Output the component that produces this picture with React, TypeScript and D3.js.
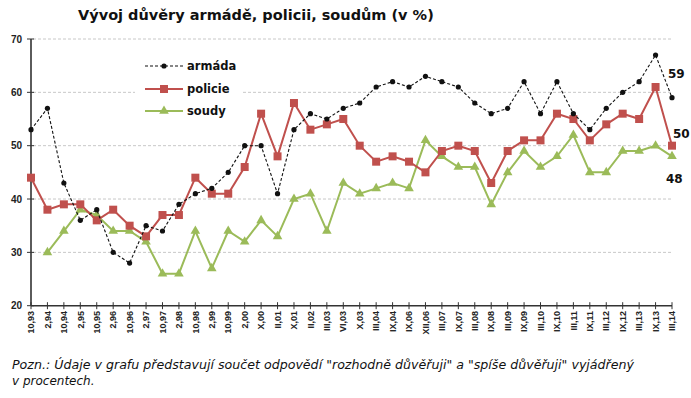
import React from "react";
import * as d3 from "d3";

const categories = [
  "10,93", "2,94", "10,94", "2,95", "10,95", "2,96", "10,96", "2,97", "10,97", "2,98",
  "10,98", "2,99", "10,99", "2,00", "X,00", "II,01", "X,01", "II,02", "III,03", "VI,03",
  "X,03", "III,04", "IX,04", "IX,06", "XII,06", "III,07", "IX,07", "III,08", "IX,08", "III,09",
  "IX,09", "III,10", "IX,10", "III,11", "IX,11", "III,12", "IX,12", "III,13", "IX,13", "III,14",
];

const armada: (number | null)[] = [
  53, 57, 43, 36, 38, 30, 28, 35, 34, 39,
  41, 42, 45, 50, 50, 41, 53, 56, 55, 57,
  58, 61, 62, 61, 63, 62, 61, 58, 56, 57,
  62, 56, 62, 56, 53, 57, 60, 62, 67, 59,
];

const policie: (number | null)[] = [
  44, 38, 39, 39, 36, 38, 35, 33, 37, 37,
  44, 41, 41, 46, 56, 48, 58, 53, 54, 55,
  50, 47, 48, 47, 45, 49, 50, 49, 43, 49,
  51, 51, 56, 55, 51, 54, 56, 55, 61, 50,
];

const soudy: (number | null)[] = [
  null, 30, 34, 38, 37, 34, 34, 32, 26, 26,
  34, 27, 34, 32, 36, 33, 40, 41, 34, 43,
  41, 42, 43, 42, 51, 48, 46, 46, 39, 45,
  49, 46, 48, 52, 45, 45, 49, 49, 50, 48,
];

const yTicks = [20, 30, 40, 50, 60, 70];

const TITLE = "Vývoj důvěry armádě, policii, soudům (v %)";
const NOTE1 = 'Pozn.: Údaje v grafu představují součet odpovědí "rozhodně důvěřuji" a "spíše důvěřuji" vyjádřený';
const NOTE2 = "v procentech.";

const RED = "#c0504d";
const GREEN = "#9bbb59";

export default function App() {
  const W = 691, H = 398;
  const x = d3.scalePoint<number>().domain(d3.range(categories.length)).range([31, 672]);
  const y = d3.scaleLinear().domain([20, 70]).range([305.7, 39]);

  const line = d3
    .line<number | null>()
    .defined((d) => d != null)
    .x((_, i) => x(i)!)
    .y((d) => y(d as number));

  const tri = d3.symbol().type(d3.symbolTriangle).size(40)();

  const last = categories.length - 1;

  return (
    <svg width={W} height={H} style={{ position: "absolute", left: 0, top: 0, background: "#fff" }}
      fontFamily="DejaVu Sans, Verdana, sans-serif">
      <rect width={W} height={H} fill="#fff" />
      {/* title */}
      <text x={78} y={20} fontSize={14.5} fontWeight="bold" fill="#111">{TITLE}</text>

      {/* gridlines */}
      {yTicks.filter((t) => t > 20).map((t) => (
        <line key={t} x1={33} x2={672} y1={y(t)} y2={y(t)} stroke="#c8c8c8" strokeWidth={1} strokeDasharray="3,2" />
      ))}

      {/* legend background */}
      <rect x={135} y={52} width={107} height={68} fill="#fff" />

      {/* axes */}
      <line x1={31} x2={31} y1={y(70)} y2={y(20)} stroke="#333" strokeWidth={1.6} />
      <line x1={31} x2={672} y1={y(20)} y2={y(20)} stroke="#333" strokeWidth={1.4} />
      {yTicks.map((t) => (
        <g key={t}>
          <line x1={27} x2={34} y1={y(t)} y2={y(t)} stroke="#333" strokeWidth={1} />
          <text x={22} y={y(t) + 3.5} fontSize={10} textAnchor="end" fill="#222"
            fontFamily="Liberation Sans, Arial, sans-serif" fontWeight="bold">{t}</text>
        </g>
      ))}
      {categories.map((c, i) => (
        <g key={c}>
          <line x1={x(i)} x2={x(i)} y1={y(20) - 3.5} y2={y(20) + 3.5} stroke="#333" strokeWidth={1} />
          <text transform={`translate(${x(i)! + 3.2},${311}) rotate(-90)`} fontSize={9} textAnchor="end"
            fontFamily="Liberation Sans, Arial, sans-serif" fontWeight="bold" fill="#222">{c}</text>
        </g>
      ))}

      {/* series */}
      <path d={line(soudy)!} fill="none" stroke={GREEN} strokeWidth={2} />
      {soudy.map((v, i) => v == null ? null : (
        <path key={i} d={tri!} transform={`translate(${x(i)},${y(v)})`} fill={GREEN} />
      ))}
      <path d={line(policie)!} fill="none" stroke={RED} strokeWidth={2} />
      {policie.map((v, i) => v == null ? null : (
        <rect key={i} x={x(i)! - 4} y={y(v) - 4} width={8} height={8} fill={RED} />
      ))}
      <path d={line(armada)!} fill="none" stroke="#111" strokeWidth={1.1} strokeDasharray="3,2" />
      {armada.map((v, i) => v == null ? null : (
        <circle key={i} cx={x(i)} cy={y(v)} r={2.6} fill="#111" />
      ))}

      {/* end labels */}
      <text x={668} y={78} fontSize={12} fontWeight="bold" fill="#111">{armada[last]}</text>
      <text x={673} y={138} fontSize={12} fontWeight="bold" fill="#111">{policie[last]}</text>
      <text x={666} y={183} fontSize={12} fontWeight="bold" fill="#111">{soudy[last]}</text>

      {/* legend */}
      <g>
        <line x1={145} x2={183} y1={66} y2={66} stroke="#111" strokeWidth={1.1} strokeDasharray="3,2" />
        <circle cx={164} cy={66} r={2.6} fill="#111" />
        <text x={187} y={70} fontSize={11.5} fontWeight="bold" fill="#111">armáda</text>
        <line x1={145} x2={183} y1={89} y2={89} stroke={RED} strokeWidth={2} />
        <rect x={160} y={85} width={8} height={8} fill={RED} />
        <text x={187} y={93} fontSize={11.5} fontWeight="bold" fill="#111">policie</text>
        <line x1={145} x2={183} y1={111} y2={111} stroke={GREEN} strokeWidth={2} />
        <path d={tri!} transform="translate(164,111)" fill={GREEN} />
        <text x={187} y={115} fontSize={11.5} fontWeight="bold" fill="#111">soudy</text>
      </g>

      {/* note */}
      <text x={12} y={369} fontSize={12} fontStyle="italic" fill="#111" textLength={622} lengthAdjust="spacingAndGlyphs">{NOTE1}</text>
      <text x={12} y={385} fontSize={12} fontStyle="italic" fill="#111">{NOTE2}</text>
    </svg>
  );
}
